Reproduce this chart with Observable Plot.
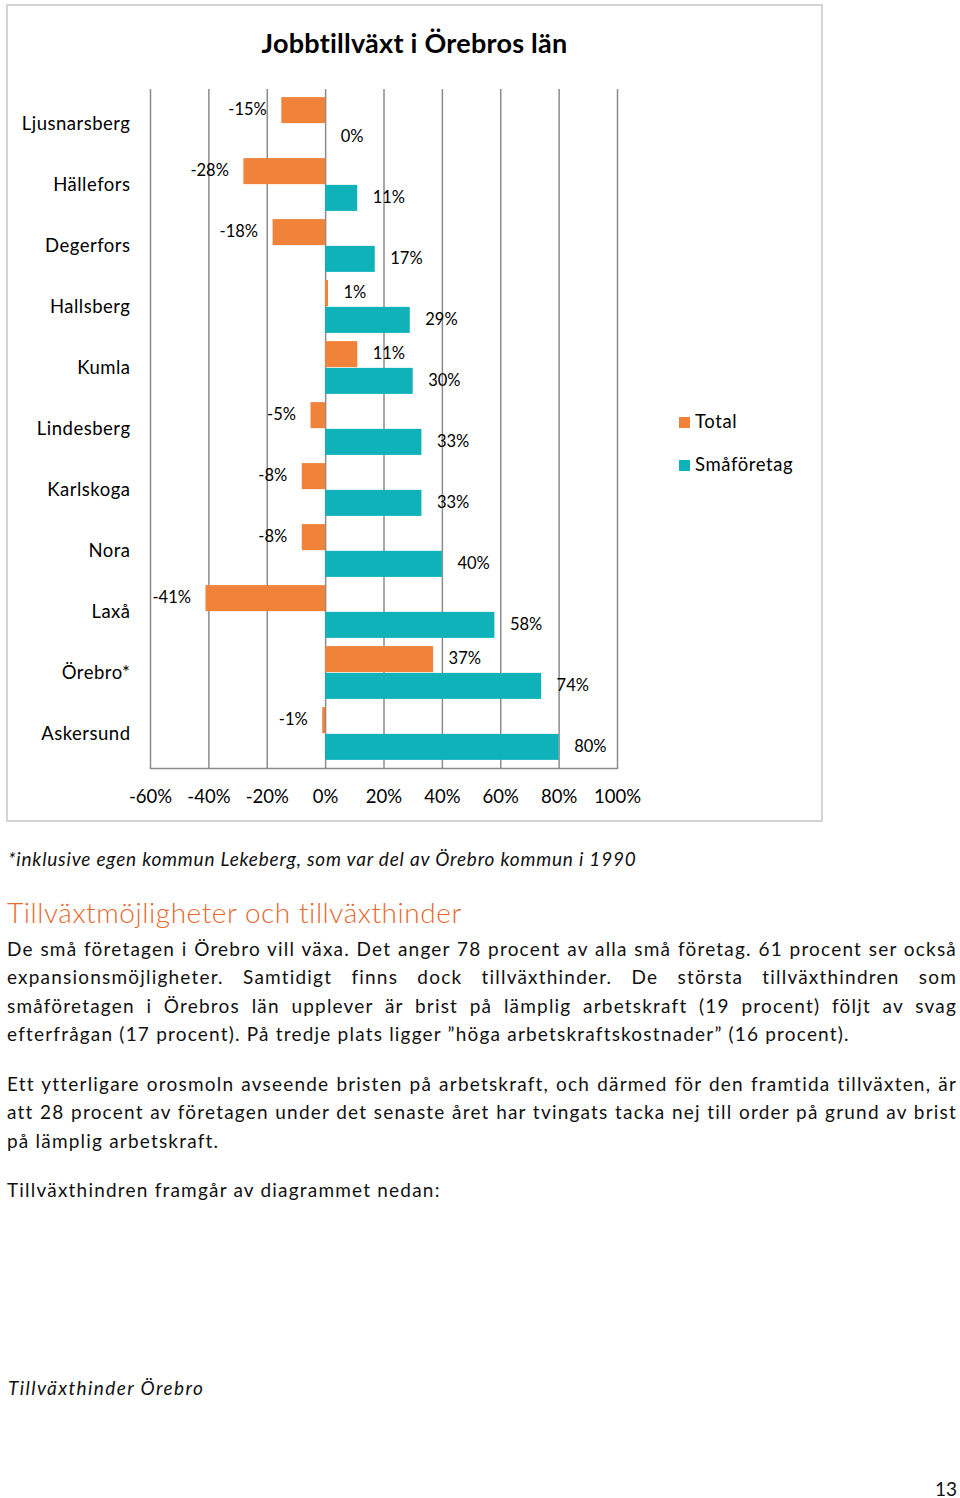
<!DOCTYPE html>
<html>
<head>
<meta charset="utf-8">
<script src="https://cdn.jsdelivr.net/npm/d3@7"></script>
<script src="https://cdn.jsdelivr.net/npm/@observablehq/plot@0.6"></script>
<style>
  html, body { margin: 0; padding: 0; background: #fff; }
  #page { position: relative; width: 960px; height: 1498px; font-family: "Lato", sans-serif; color: #111; }
  #box { position: absolute; left: 6px; top: 4px; width: 817px; height: 818px; box-sizing: border-box; border: 2px solid #d4d4d4; }
  #title { position: absolute; left: 6px; width: 817px; top: 26px; text-align: center; font-weight: bold; font-size: 27px; letter-spacing: 0.25px; line-height: 34px; color: #000; }
  #chart { position: absolute; left: 0; top: 0; }
  #chart g[aria-label="y-axis tick label"] text { letter-spacing: 0.5px; }
  .leg { position: absolute; left: 679px; font-size: 18.5px; letter-spacing: 0.6px; line-height: 22px; color: #000; }
  .leg span.sw { display: inline-block; width: 11px; height: 11px; margin-right: 5px; vertical-align: 0px; }
  .blk { position: absolute; left: 7px; width: 950px; font-size: 19px; letter-spacing: 1.2px; line-height: 28.4px; }
  .ln { display: block; text-align: justify; text-align-last: justify; white-space: nowrap; }
  .ln.last { text-align-last: left; }
  #foot { position: absolute; left: 8px; top: 845px; font-style: italic; font-size: 19px; letter-spacing: 0.8px; line-height: 28px; }
  #head { position: absolute; left: 7px; top: 894px; font-size: 28px; letter-spacing: 0.55px; line-height: 36px; font-weight: 300; color: #e56a2e; }
  #cap { position: absolute; left: 8px; top: 1374px; font-style: italic; font-size: 19px; letter-spacing: 1.4px; line-height: 28px; }
  #pnum { position: absolute; left: 935px; top: 1475px; font-size: 19px; line-height: 28px; }
</style>
</head>
<body>
<div id="page">
  <div id="box"></div>
  <div id="title">Jobbtillväxt i Örebros län</div>
  <div id="chart"></div>
  <div class="leg" style="top:410px"><span class="sw" style="background:#f0823a"></span>Total</div>
  <div class="leg" style="top:453px"><span class="sw" style="background:#0fb2b8"></span>Småföretag</div>
  <div id="foot">*inklusive egen kommun Lekeberg, som var del av Örebro kommun i 1990</div>
  <div id="head">Tillväxtmöjligheter och tillväxthinder</div>
  <div class="blk" style="top:935px">
    <span class="ln">De små företagen i Örebro vill växa. Det anger 78 procent av alla små företag. 61 procent ser också</span>
    <span class="ln">expansionsmöjligheter. Samtidigt finns dock tillväxthinder. De största tillväxthindren som</span>
    <span class="ln">småföretagen i Örebros län upplever är brist på lämplig arbetskraft (19 procent) följt av svag</span>
    <span class="ln last">efterfrågan (17 procent). På tredje plats ligger ”höga arbetskraftskostnader” (16 procent).</span>
  </div>
  <div class="blk" style="top:1070px">
    <span class="ln">Ett ytterligare orosmoln avseende bristen på arbetskraft, och därmed för den framtida tillväxten, är</span>
    <span class="ln">att 28 procent av företagen under det senaste året har tvingats tacka nej till order på grund av brist</span>
    <span class="ln last">på lämplig arbetskraft.</span>
  </div>
  <div class="blk" style="top:1176px">
    <span class="ln last">Tillväxthindren framgår av diagrammet nedan:</span>
  </div>
  <div id="cap">Tillväxthinder Örebro</div>
  <div id="pnum">13</div>
</div>
<script>
const municipalities = ["Ljusnarsberg", "Hällefors", "Degerfors", "Hallsberg", "Kumla", "Lindesberg", "Karlskoga", "Nora", "Laxå", "Örebro*", "Askersund"];
const total = [-15, -28, -18, 1, 11, -5, -8, -8, -41, 37, -1];
const smaforetag = [0, 11, 17, 29, 30, 33, 33, 40, 58, 74, 80];
const xTicks = [-60, -40, -20, 0, 20, 40, 60, 80, 100];

const orange = "#f0823a";
const teal = "#0fb2b8";

const rows = municipalities.map((m, i) => ({muni: m, total: total[i], sma: smaforetag[i]}));

const W = 830, H = 820, mt = 89, mb = 52;
const step = (H - mt - mb) / municipalities.length;
const half = step / 2;
const outer = 4.1;
const off = (half + outer) / 2 - outer; // distance from band center to each bar's center
const pct = d => d + "%";

const chart = Plot.plot({
  width: W,
  height: H,
  marginLeft: 150,
  marginRight: 213,
  marginTop: mt,
  marginBottom: mb,
  style: {fontFamily: "Lato, sans-serif", fontSize: "18.5px", color: "#000", background: "transparent", overflow: "visible"},
  x: {domain: [-60, 100], ticks: xTicks, tickFormat: pct, tickSize: 0, tickPadding: 21, label: null},
  y: {domain: municipalities, padding: 0, tickSize: 0, tickPadding: 20, label: null},
  marks: [
    Plot.gridX(xTicks, {stroke: "#8c8c8c", strokeOpacity: 1, strokeWidth: 1.5}),
    Plot.frame({anchor: "bottom", stroke: "#8c8c8c", strokeWidth: 1.5}),
    Plot.barX(rows, {x: "total", y: "muni", fill: orange, insetTop: outer, insetBottom: half}),
    Plot.barX(rows, {x: "sma", y: "muni", fill: teal, insetTop: half, insetBottom: outer}),
    Plot.text(rows.filter(d => d.total >= 0), {x: "total", y: "muni", text: d => pct(d.total), textAnchor: "start", dx: 15, dy: -half + outer + off - 0.5, fontSize: 16.5, fill: "#000"}),
    Plot.text(rows.filter(d => d.total < 0), {x: "total", y: "muni", text: d => pct(d.total), textAnchor: "end", dx: -15, dy: -half + outer + off - 0.5, fontSize: 16.5, fill: "#000"}),
    Plot.text(rows, {x: "sma", y: "muni", text: d => pct(d.sma), textAnchor: "start", dx: 15, dy: off - 0.5, fontSize: 16.5, fill: "#000"})
  ]
});
document.getElementById("chart").appendChild(chart);
</script>
</body>
</html>
